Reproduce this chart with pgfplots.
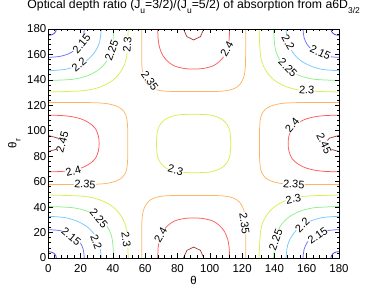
\documentclass[border=0pt]{standalone}
\usepackage{pgfplots}
\pgfplotsset{compat=1.18}
\usepackage{fontspec}
\setmainfont{Liberation Sans}
\newcommand\sub[1]{\raisebox{-0.38em}{\fontsize{8.5}{9}\selectfont #1}}
\newcommand\fnt{\fontsize{11.5}{13}\selectfont}
\newcommand\tfnt{\fontsize{12.3}{14}\selectfont}
\definecolor{cA}{RGB}{70,60,230}
\definecolor{cB}{RGB}{105,115,255}
\definecolor{cC}{RGB}{120,200,255}
\definecolor{cD}{RGB}{140,240,140}
\definecolor{cE}{RGB}{210,240,80}
\definecolor{cF}{RGB}{255,180,100}
\definecolor{cG}{RGB}{255,90,90}
\definecolor{cH}{RGB}{170,60,60}
\tikzset{lab/.style={fill=white, inner sep=0.3bp, font=\fontsize{11}{11}\selectfont}}
\begin{document}
\begin{tikzpicture}
\useasboundingbox (0,0) rectangle (374bp,291bp);
\begin{axis}[
  at={(48.3bp,33bp)}, anchor=south west,
  scale only axis, width=290.7bp, height=229bp,
  xmin=0, xmax=180, ymin=0, ymax=180,
  xtick={0,20,...,180}, ytick={0,20,...,180},
  minor tick num=4,
  tick align=inside,
  major tick length=4.5bp, minor tick length=2.5bp,
  axis on top,
  axis line style={line width=0.8bp},
  every tick/.style={black, line width=0.6bp},
  /pgf/number format/assume math mode=true,
  tick label style={font=\fnt},
  xticklabel style={inner sep=0pt, yshift=-6bp},
  yticklabel style={inner sep=0pt, xshift=-1.8bp},
  title={Optical depth ratio (J\sub{u}=3/2)/(J\sub{u}=5/2) of absorption from a6D\sub{3/2}},
  title style={font=\tfnt, at={(axis description cs:0.5,1)}, anchor=base, yshift=14.5bp, inner sep=0pt},
  xlabel={θ},
  xlabel style={font=\fnt, at={(axis description cs:0.5,0)}, anchor=north, yshift=-18bp, inner sep=0pt},
  ylabel={θ\sub{r}},
  ylabel style={font=\fnt, at={(axis description cs:-0.117,0.5)}, anchor=center, inner sep=0pt},
  empty line=jump,
  every axis plot/.append style={line width=0.75bp},
]
% level 2.10
\addplot[cA, smooth, no marks] table {
0 5
2 4.6
3.6 3.6
4.6 2
5 0

0 175
2 175.4
3.6 176.4
4.6 178
5 180

180 5
178 4.6
176.4 3.6
175.4 2
175 0

180 175
178 175.4
176.4 176.4
175.4 178
175 180
};
% level 2.15
\addplot[cB, smooth, no marks] table {
0 22.3
6.9 21.6
12.2 19.7
16.5 16.5
19.7 12.2
21.6 6.9
22.3 0

0 157.7
6.9 158.4
12.2 160.3
16.5 163.5
19.7 167.8
21.6 173.1
22.3 180

180 22.3
173.1 21.6
167.8 19.7
163.5 16.5
160.3 12.2
158.4 6.9
157.7 0

180 157.7
173.1 158.4
167.8 160.3
163.5 163.5
160.3 167.8
158.4 173.1
157.7 180
};
% level 2.20
\addplot[cC, smooth, no marks] table {
0 32.8
10.1 31.8
17.9 28.9
24.3 24.3
28.9 17.9
31.8 10.1
32.8 0

0 147.2
10.1 148.2
17.9 151.1
24.3 155.7
28.9 162.1
31.8 169.9
32.8 180

180 32.8
169.9 31.8
162.1 28.9
155.7 24.3
151.1 17.9
148.2 10.1
147.2 0

180 147.2
169.9 148.2
162.1 151.1
155.7 155.7
151.1 162.1
148.2 169.9
147.2 180
};
% level 2.25
\addplot[cD, smooth, no marks] table {
0 40.5
15.4 39.5
24.7 36.5
31.6 31.6
36.5 24.7
39.5 15.4
40.5 0

0 139.5
15.4 140.5
24.7 143.5
31.6 148.4
36.5 155.3
39.5 164.6
40.5 180

180 40.5
164.6 39.5
155.3 36.5
148.4 31.6
143.5 24.7
140.5 15.4
139.5 0

180 139.5
164.6 140.5
155.3 143.5
148.4 148.4
143.5 155.3
140.5 164.6
139.5 180
};
% level 2.30
\addplot[cE, smooth, no marks] table {
0 49.5
21.8 48.5
32.5 45.4
40.1 40.1
45.4 32.5
48.5 21.8
49.5 0

0 130.5
21.8 131.5
32.5 134.6
40.1 139.9
45.4 147.5
48.5 158.2
49.5 180

180 49.5
158.2 48.5
147.5 45.4
139.9 40.1
134.6 32.5
131.5 21.8
130.5 0

180 130.5
158.2 131.5
147.5 134.6
139.9 139.9
134.6 147.5
131.5 158.2
130.5 180

113 90
112.5 99.3
110.9 104.5
108.3 108.3
104.5 110.9
99.3 112.5
90 113
80.7 112.5
75.5 110.9
71.7 108.3
69.1 104.5
67.5 99.3
67 90
67.5 80.7
69.1 75.5
71.7 71.7
75.5 69.1
80.7 67.5
90 67
99.3 67.5
104.5 69.1
108.3 71.7
110.9 75.5
112.5 80.7
113 90
};
% level 2.35
\addplot[cF, smooth, no marks] table {
57.8 0
57.8 20
58 30
58.8 37
60.5 42
63 45.5
67 47.8
72 48.8
80 49.2
90 49.2
100 49.2
108 48.8
113 47.8
117 45.5
119.5 42
121.2 37
122 30
122.2 20
122.2 0

57.8 180
57.8 160
58 150
58.8 143
60.5 138
63 134.5
67 132.2
72 131.2
80 130.8
90 130.8
100 130.8
108 131.2
113 132.2
117 134.5
119.5 138
121.2 143
122 150
122.2 160
122.2 180

0 57.8
20 57.8
30 58
37 58.8
42 60.5
45.5 63
47.8 67
48.8 72
49.2 80
49.2 90
49.2 100
48.8 108
47.8 113
45.5 117
42 119.5
37 121.2
30 122
20 122.2
0 122.2

180 57.8
160 57.8
150 58
143 58.8
138 60.5
134.5 63
132.2 67
131.2 72
130.8 80
130.8 90
130.8 100
131.2 108
132.2 113
134.5 117
138 119.5
143 121.2
150 122
160 122.2
180 122.2
};
% level 2.40
\addplot[cG, smooth, no marks] table {
67.8 0
68 8
69 15
71 21
74 25.5
78 29
84 31
90 31.5
96 31
102 29
106 25.5
109 21
111 15
112 8
112.2 0

67.8 180
68 172
69 165
71 159
74 154.5
78 151
84 149
90 148.5
96 149
102 151
106 154.5
109 159
111 165
112 172
112.2 180

0 67.8
8 68
15 69
21 71
25.5 74
29 78
31 84
31.5 90
31 96
29 102
25.5 106
21 109
15 111
8 112
0 112.2

180 67.8
172 68
165 69
159 71
154.5 74
151 78
149 84
148.5 90
149 96
151 102
154.5 106
159 109
165 111
172 112
180 112.2
};
% level 2.45
\addplot[cH, no marks] table {
83.7 0
85.8 6
90 8.6
94.2 6
96.3 0

83.7 180
85.8 174
90 171.4
94.2 174
96.3 180

0 83.7
6 85.8
8.6 90
6 94.2
0 96.3

180 83.7
174 85.8
171.4 90
174 94.2
180 96.3
};
% contour labels
\node[lab, rotate=50] at (axis cs:20.6,168.3) {2.15};
\node[lab, rotate=40] at (axis cs:19.0,152.0) {2.2};
\node[lab, rotate=70] at (axis cs:39.2,163) {2.25};
\node[lab, rotate=85] at (axis cs:48.9,168) {2.3};
\node[lab, rotate=-55] at (axis cs:62.9,139.4) {2.35};
\node[lab, rotate=75] at (axis cs:8.7,91) {2.45};
\node[lab, rotate=60] at (axis cs:110.5,164) {2.4};
\node[lab, rotate=-60] at (axis cs:148.6,169.3) {2.2};
\node[lab, rotate=-25] at (axis cs:168.5,161.5) {2.15};
\node[lab, rotate=-45] at (axis cs:148.3,149.5) {2.25};
\node[lab, rotate=-5] at (axis cs:160,132) {2.3};
\node[lab, rotate=50] at (axis cs:151,104.6) {2.4};
\node[lab, rotate=-65] at (axis cs:170.8,90) {2.45};
\node[lab, rotate=15] at (axis cs:15.5,68.4) {2.4};
\node[lab, rotate=-5] at (axis cs:22.7,58) {2.35};
\node[lab, rotate=-15] at (axis cs:78.8,69) {2.3};
\node[lab, rotate=-50] at (axis cs:31.3,31.3) {2.25};
\node[lab, rotate=-40] at (axis cs:14.2,16.6) {2.15};
\node[lab, rotate=-70] at (axis cs:29.7,12.6) {2.2};
\node[lab, rotate=-82] at (axis cs:48.2,14.2) {2.3};
\node[lab, rotate=60] at (axis cs:69.5,18) {2.4};
\node[lab, rotate=-5] at (axis cs:152,58) {2.35};
\node[lab, rotate=12] at (axis cs:151.7,46.4) {2.3};
\node[lab, rotate=-82] at (axis cs:121.5,27.3) {2.35};
\node[lab, rotate=70] at (axis cs:140.8,14.2) {2.25};
\node[lab, rotate=45] at (axis cs:157.3,26) {2.2};
\node[lab, rotate=35] at (axis cs:166.8,17.5) {2.15};
\end{axis}
\end{tikzpicture}
\end{document}
